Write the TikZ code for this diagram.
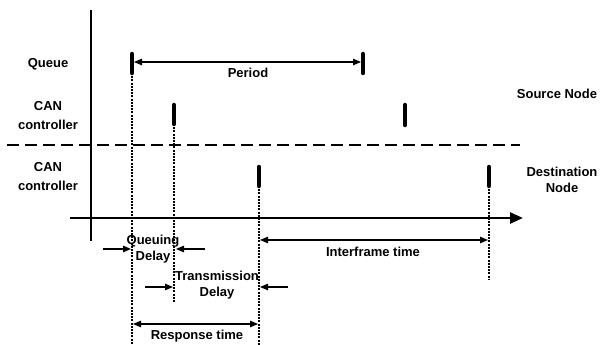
\documentclass[tikz,border=0pt]{standalone}
\usepackage{fontspec}
\setmainfont{Liberation Sans}
\usetikzlibrary{arrows.meta}
\begin{document}
\begin{tikzpicture}[x=1pt,y=-1pt,
 lbl/.style={font=\bfseries\fontsize{13}{16}\selectfont, inner sep=0pt, align=center},
 lbltwo/.style={lbl, font=\bfseries\fontsize{13}{19}\selectfont},
 tickbar/.style={line width=4.5pt, line cap=round},
 axisline/.style={line width=2.6pt},
 sepline/.style={line width=2.6pt, dash pattern=on 12pt off 6pt},
 vdot/.style={line width=2.2pt, dash pattern=on 2pt off 1.2pt},
 dimarrow/.style={line width=1.2pt, -{Triangle[length=8pt,width=6.5pt]}},
 ddimarrow/.style={line width=1.2pt, {Triangle[length=8pt,width=6.5pt]}-{Triangle[length=8pt,width=6.5pt]}}]
\useasboundingbox (0,0) rectangle (606,345);

% axes
\coordinate (vtop) at (91,10);
\coordinate (vbot) at (91,241);
\coordinate (hleft) at (70,218);
\coordinate (hright) at (523,218);
\draw[axisline] (vtop) -- (vbot);
\draw[axisline, -{Triangle[length=13pt,width=11pt]}] (hleft) -- (hright);

% separator
\coordinate (sepl) at (7,145);
\coordinate (sepr) at (520,145);
\draw[sepline] (sepl) -- (sepr);

% ticks
\coordinate (q1t) at (132,54); \coordinate (q1b) at (132,73);
\coordinate (q2t) at (363,54); \coordinate (q2b) at (363,73);
\coordinate (s1t) at (174,105); \coordinate (s1b) at (174,124);
\coordinate (s2t) at (405,105); \coordinate (s2b) at (405,125);
\coordinate (d1t) at (259,167); \coordinate (d1b) at (259,186);
\coordinate (d2t) at (489,167); \coordinate (d2b) at (489,186);
\foreach \a/\b in {q1t/q1b,q2t/q2b,s1t/s1b,s2t/s2b,d1t/d1b,d2t/d2b}
  \draw[tickbar] (\a) -- (\b);

% dotted verticals
\coordinate (q1e) at (132,345);
\coordinate (s1e) at (174,302);
\coordinate (d1e) at (259,345);
\coordinate (d2e) at (489,280);
\draw[vdot] (q1b) -- (q1e);
\draw[vdot] (s1b) -- (s1e);
\draw[vdot] (d1b) -- (d1e);
\draw[vdot] (d2b) -- (d2e);

% period
\coordinate (pl) at (134,62);
\coordinate (pr) at (361,62);
\draw[ddimarrow] (pl) -- (pr);
\node[lbl] (period) at (248,73) {Period};

% queuing delay
\coordinate (qa1) at (103,249); \coordinate (qa2) at (131,249);
\coordinate (qb1) at (205,249); \coordinate (qb2) at (176,249);
\draw[dimarrow] (qa1) -- (qa2);
\draw[dimarrow] (qb1) -- (qb2);
\node[lbl] (queuing) at (153,249) {Queuing\\Delay};

% transmission delay
\coordinate (ta1) at (145,287); \coordinate (ta2) at (173,287);
\coordinate (tb1) at (288,287); \coordinate (tb2) at (260,287);
\draw[dimarrow] (ta1) -- (ta2);
\draw[dimarrow] (tb1) -- (tb2);
\node[lbl] (transm) at (217,285) {Transmission\\Delay};

% interframe
\coordinate (il) at (260,240); \coordinate (ir) at (488,240);
\draw[ddimarrow] (il) -- (ir);
\node[lbl] (inter) at (373,252) {Interframe time};

% response
\coordinate (rl) at (133,324); \coordinate (rr) at (258,324);
\draw[ddimarrow] (rl) -- (rr);
\node[lbl] (resp) at (197,336) {Response time};

% row labels
\node[lbl] (queue) at (48,64) {Queue};
\node[lbltwo] (canS) at (48,116) {CAN\\controller};
\node[lbltwo] (canD) at (48,177) {CAN\\controller};
\node[lbl] (src) at (557,94) {Source Node};
\node[lbl] (dst) at (562,180) {Destination\\Node};
\end{tikzpicture}
\end{document}
